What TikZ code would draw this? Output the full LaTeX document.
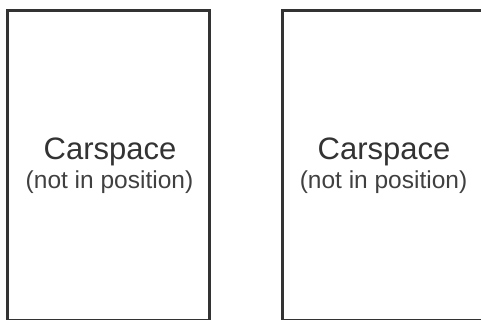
\documentclass[tikz,border=0pt]{standalone}
\usepackage{fontspec}
\setmainfont{Liberation Sans}
\usetikzlibrary{positioning}

\begin{document}
\begin{tikzpicture}[x=1pt, y=-1pt,
  bay/.style={draw=black!80, line width=3pt, inner sep=0pt, outer sep=0pt, minimum height=309.5pt},
  caption/.style={font=\fontsize{31}{31}\selectfont, text=black!80, inner sep=0pt, anchor=base},
  note/.style={font=\fontsize{24.5}{24.5}\selectfont, text=black!75, inner sep=0pt, anchor=base},
]
\useasboundingbox (0,0) rectangle (481,320);

% two parking bays, bottoms run off the page
\node[bay, minimum width=202pt] (bayL) at (108.5, 165.75) {};
\node[bay, minimum width=201pt] (bayR) at (383, 165.75) {};

% labels
\node[caption] (capL) at (110, 160) {Carspace};
\node[note]    (noteL) at (109.5, 189) {(not in position)};
\node[caption] (capR) at (384, 160) {Carspace};
\node[note]    (noteR) at (383.5, 189) {(not in position)};

\end{tikzpicture}
\end{document}
